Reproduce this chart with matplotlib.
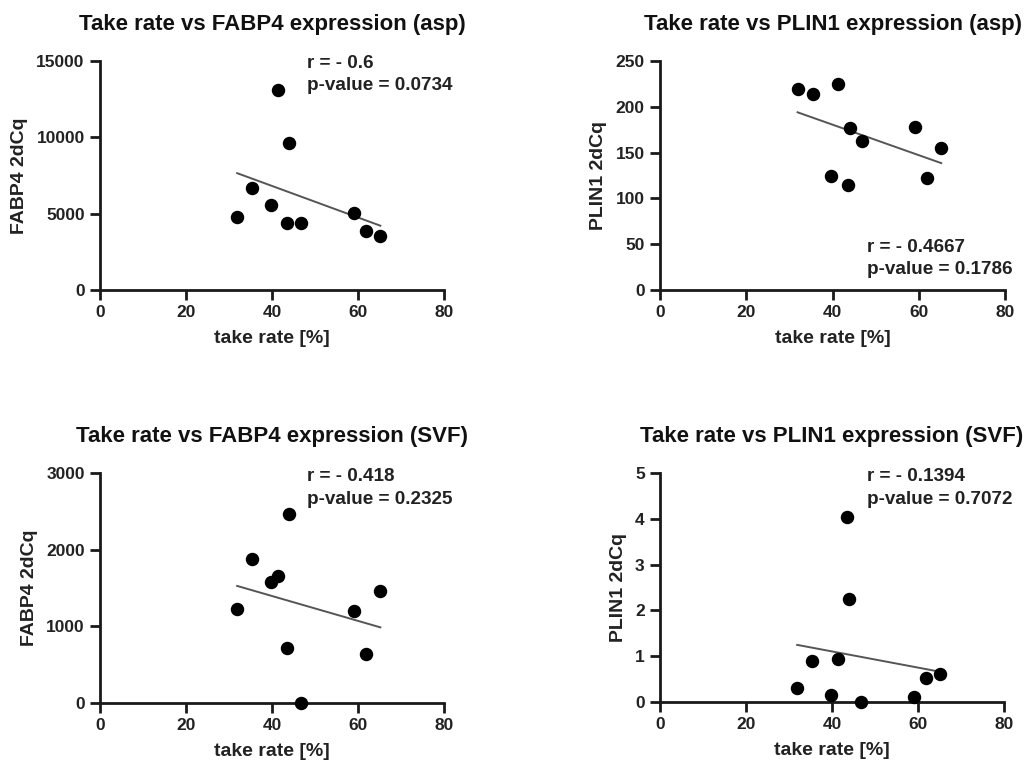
import numpy as np
import matplotlib
matplotlib.use("Agg")
import matplotlib.pyplot as plt

plt.rcParams['font.family'] = ['Liberation Sans', 'DejaVu Sans']
plt.rcParams['font.weight'] = 'bold'

take_rate = [31.9, 35.4, 39.7, 41.3, 43.5, 44.0, 46.8, 59.1, 61.8, 65.2]

fabp4_asp = [4800, 6700, 5550, 13100, 4420, 9650, 4410, 5060, 3860, 3510]
plin1_asp = [219, 213.6, 124.5, 225.3, 114.6, 176.5, 162.3, 177.6, 122.6, 154.7]
fabp4_svf = [1231, 1881, 1574, 1660, 720, 2462, 5, 1205, 642, 1461]
plin1_svf = [0.31, 0.89, 0.16, 0.93, 4.03, 2.24, 0.01, 0.12, 0.52, 0.62]

titles = ["Take rate vs FABP4 expression (asp)", "Take rate vs PLIN1 expression (asp)",
          "Take rate vs FABP4 expression (SVF)", "Take rate vs PLIN1 expression (SVF)"]
ylabels = ["FABP4 2dCq", "PLIN1 2dCq", "FABP4 2dCq", "PLIN1 2dCq"]
r_texts = ["r = - 0.6", "r = - 0.4667", "r = - 0.418", "r = - 0.1394"]
p_texts = ["p-value = 0.0734", "p-value = 0.1786", "p-value = 0.2325", "p-value = 0.7072"]
y_ticks = [[0, 5000, 10000, 15000], [0, 50, 100, 150, 200, 250],
           [0, 1000, 2000, 3000], [0, 1, 2, 3, 4, 5]]
x_ticks = [0, 20, 40, 60, 80]
series = [fabp4_asp, plin1_asp, fabp4_svf, plin1_svf]

W, H = 1026, 763
fig = plt.figure(figsize=(W / 100, H / 100), dpi=100)

# axes boxes in pixels: left, top, right, bottom
boxes = [(100, 61, 444, 290), (660, 61, 1005, 290),
         (100, 473, 444, 703), (660, 473, 1004, 702)]
# annotation positions (left x, y center of first line) in pixels
ann = [(307, 63), (867, 248), (307, 477), (867, 477)]

for i in range(4):
    l, t, r, b = boxes[i]
    ax = fig.add_axes([l / W, 1 - b / H, (r - l) / W, (b - t) / H])
    x = np.array(take_rate)
    y = np.array(series[i])
    ax.scatter(x, y, s=75, color='black', zorder=3, clip_on=False)
    k, c = np.polyfit(x, y, 1)
    xs = np.array([x.min(), x.max()])
    ax.plot(xs, k * xs + c, color='#555555', lw=1.4, zorder=2)
    ax.set_xlim(0, 80)
    ax.set_ylim(y_ticks[i][0], y_ticks[i][-1])
    ax.set_xticks(x_ticks)
    ax.set_yticks(y_ticks[i])
    for s in ['top', 'right']:
        ax.spines[s].set_visible(False)
    for s in ['left', 'bottom']:
        ax.spines[s].set_linewidth(2)
        ax.spines[s].set_color('#1a1a1a')
    ax.tick_params(width=2, length=7, labelsize=12.5, color='#1a1a1a', pad=4)
    for lab in ax.get_xticklabels() + ax.get_yticklabels():
        lab.set_fontweight('bold')
        lab.set_color('#222222')
    ax.set_xlabel("take rate [%]", fontsize=14, fontweight='bold', color='#222222', labelpad=7)
    ax.set_ylabel(ylabels[i], fontsize=14, fontweight='bold', color='#222222', labelpad=6)
    ax.set_title(titles[i], fontsize=16, fontweight='bold', color='#111111', pad=22)
    ax_x, ax_y = ann[i]
    fig.text(ax_x / W, 1 - ax_y / H, r_texts[i], fontsize=13.6, fontweight='bold',
             va='center', ha='left', color='#222222')
    fig.text(ax_x / W, 1 - (ax_y + 22) / H, p_texts[i], fontsize=13.6, fontweight='bold',
             va='center', ha='left', color='#222222')

fig.savefig("out.png", dpi=100, facecolor='white')
